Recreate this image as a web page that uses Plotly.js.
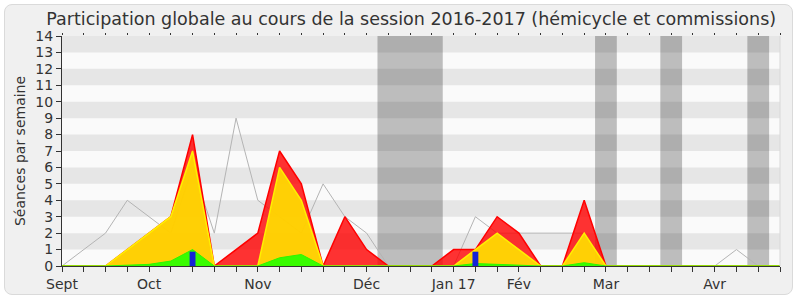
<!DOCTYPE html>
<html>
<head>
<meta charset="utf-8">
<script src="https://cdn.plot.ly/plotly-3.0.1.min.js"></script>
<style>
  html, body { margin: 0; padding: 0; background: #ffffff; }
  #wrap { position: relative; width: 800px; height: 300px; overflow: hidden; background: #ffffff; }
  #panel { position: absolute; left: 4px; top: 4px; width: 787px; height: 289px; background: #f0f0f0; border: 1px solid #dadada; border-radius: 8px; }
  #chart { position: absolute; left: 0; top: 0; width: 800px; height: 300px; }
</style>
</head>
<body>
<div id="wrap">
  <div id="panel"></div>
  <div id="chart"></div>
</div>
<script>
// Weeks of the session (index 0 = first week of September 2016)
const weeks = [0,1,2,3,4,5,6,7,8,9,10,11,12,13,14,15,16,17,18,19,20,21,22,23,24,25,26,27,28,29,30,31,32,33];

// Month tick labels and their week positions
const monthTickWeeks = [0, 4, 9, 14, 18, 21, 25, 30];
const monthTickLabels = ["Sept", "Oct", "Nov", "Déc", "Jan 17", "Fév", "Mar", "Avr"];

// Parliamentary holiday weeks (start, end)
const holidayStart = [14.5, 24.5, 27.5, 31.5];
const holidayEnd   = [17.5, 25.5, 28.5, 32.5];

// Series (sessions per week)
const presence      = [0,0,0,1,2,3,8,0,1,2,7,5,0,3,1,0,0,0,1,1,3,2,0,0,4,0,0,0,0,0,0,0,0,0];
const participation = [0,0,0,1,2,3,7,0,0,0,6,4,0,0,0,0,0,0,0,1,2,1,0,0,2,0,0,0,0,0,0,0,0,0];
const interventions = [0,0,0,0.05,0.1,0.3,1,0,0,0,0.5,0.7,0,0,0,0,0,0,0,0.15,0.1,0.05,0,0,0.2,0,0,0,0,0,0,0,0,0];
const questions     = [0,0,0,0,0,0,0.87,0,0,0,0,0,0,0,0,0,0,0,0,0.87,0,0,0,0,0,0,0,0,0,0,0,0,0,0];
const medianDeputes = [0,1,2,4,3,2,6,2,9,4,3,2,5,3,2,0,0,0,0,3,2,2,2,2,2,0,0,0,0,0,0,1,0,0];

const yMax = 14;
const xMax = weeks[weeks.length - 1];

const FONT = "DejaVu Sans, Verdana, sans-serif";

const traces = [
  {
    x: weeks, y: medianDeputes, type: "scatter", mode: "lines",
    line: { color: "#b4b4b4", width: 1 }, hoverinfo: "skip", showlegend: false
  },
  {
    x: weeks, y: presence, type: "scatter", mode: "lines", fill: "tozeroy",
    fillcolor: "rgba(255,0,0,0.8)", line: { color: "rgb(255,0,0)", width: 1.5 },
    hoverinfo: "skip", showlegend: false
  },
  {
    x: weeks, y: participation, type: "scatter", mode: "lines", fill: "tozeroy",
    fillcolor: "rgba(255,225,0,0.9)", line: { color: "rgb(255,240,0)", width: 1.5 },
    hoverinfo: "skip", showlegend: false
  },
  {
    x: weeks, y: interventions, type: "scatter", mode: "lines", fill: "tozeroy",
    fillcolor: "rgba(40,255,0,0.92)", line: { color: "rgb(45,245,0)", width: 1 },
    hoverinfo: "skip", showlegend: false
  },
  {
    x: weeks, y: questions, type: "bar", xaxis: "x2", yaxis: "y2",
    width: 0.27, marker: { color: "rgb(20,35,215)", line: { width: 0 } },
    hoverinfo: "skip", showlegend: false
  }
];

const shapes = [];
// alternating horizontal stripes
for (let k = 1; k < yMax; k += 2) {
  shapes.push({ type: "rect", xref: "paper", yref: "y", x0: 0, x1: 1, y0: k, y1: k + 1,
    fillcolor: "#e6e6e6", line: { width: 0 }, layer: "below" });
}
// holiday bands
for (let i = 0; i < holidayStart.length; i++) {
  shapes.push({ type: "rect", xref: "x", yref: "paper", x0: holidayStart[i], x1: holidayEnd[i], y0: 0, y1: 1,
    fillcolor: "rgba(0,0,0,0.245)", line: { width: 0 }, layer: "below" });
}
// right border of plot area
shapes.push({ type: "line", xref: "paper", yref: "paper", x0: 1, x1: 1, y0: 0, y1: 1,
  line: { color: "#d8d8d8", width: 1 } });

const layout = {
  width: 800, height: 300,
  margin: { l: 62, r: 20, t: 36, b: 34, pad: 0 },
  paper_bgcolor: "rgba(0,0,0,0)",
  plot_bgcolor: "#fafafa",
  font: { family: FONT, size: 14, color: "#333333" },
  title: {
    text: "Participation globale au cours de la session 2016-2017 (hémicycle et commissions)",
    font: { family: FONT, size: 17.5, color: "#333333" },
    xref: "container", yref: "container", x: 0.514, xanchor: "center", y: 0.937, yanchor: "middle"
  },
  xaxis: {
    range: [0, xMax], fixedrange: true,
    tickmode: "array", tickvals: monthTickWeeks, ticktext: monthTickLabels,
    ticks: "outside", ticklen: 5, tickcolor: "#333333", tickwidth: 1,
    minor: { ticks: "outside", ticklen: 5, tickcolor: "#333333", tickwidth: 1, dtick: 1, tick0: 0, showgrid: false },
    showline: true, linecolor: "#333333", linewidth: 1,
    showgrid: false, zeroline: false,
    tickfont: { family: FONT, size: 14, color: "#333333" }
  },
  xaxis2: {
    overlaying: "x", side: "top", range: [0, xMax], fixedrange: true,
    tickmode: "linear", tick0: 0, dtick: 1, ticks: "outside", ticklen: 2, tickcolor: "#333333",
    showticklabels: false, showline: false, showgrid: false, zeroline: false
  },
  yaxis: {
    range: [0, yMax], fixedrange: true,
    tickmode: "linear", tick0: 0, dtick: 1,
    ticks: "outside", ticklen: 5, tickcolor: "#333333",
    showline: true, linecolor: "#333333", linewidth: 1,
    showgrid: false, zeroline: false,
    tickfont: { family: FONT, size: 14, color: "#333333" },
    title: { text: "Séances par semaine", font: { family: FONT, size: 14, color: "#333333" }, standoff: 6 }
  },
  yaxis2: {
    overlaying: "y", range: [0, yMax], visible: false, fixedrange: true
  },
  shapes: shapes
};

Plotly.newPlot("chart", traces, layout, { staticPlot: true, displayModeBar: false });
</script>
</body>
</html>
